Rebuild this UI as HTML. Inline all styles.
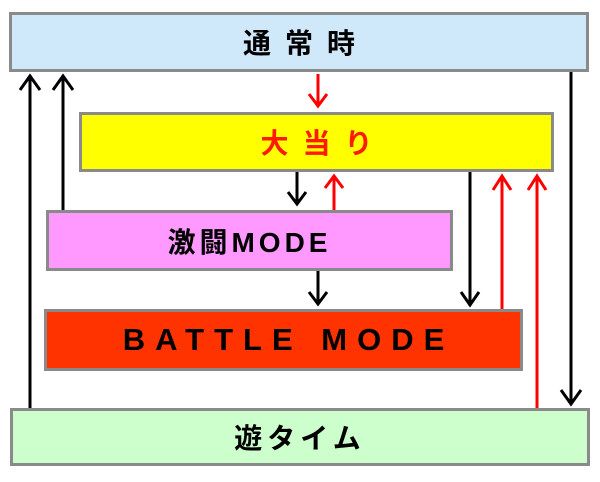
<!DOCTYPE html>
<html><head><meta charset="utf-8"><style>
body{margin:0;background:#fff;width:600px;height:482px;position:relative;overflow:hidden;font-family:"Liberation Sans","Noto Sans CJK JP",sans-serif;font-weight:bold}
.b{position:absolute;box-sizing:border-box;border:3px solid #8a8a8a;display:flex;align-items:center;justify-content:center;font-size:28px;color:#000}
svg{position:absolute;left:0;top:0}
</style></head><body>
<div class="b" style="left:9px;top:12px;width:580px;height:60px;background:#cfe9fb;letter-spacing:14px;padding-left:14px">通常時</div>
<div class="b" style="left:79px;top:112px;width:475px;height:60px;background:#ffff00;color:#ff1a00;letter-spacing:14px;padding-left:14px">大当り</div>
<div class="b" style="left:46px;top:210px;width:407px;height:61px;background:#ff99ff;letter-spacing:4px">激闘MODE</div>
<div class="b" style="left:44px;top:309px;width:479px;height:62px;background:#ff3300;font-size:31px;letter-spacing:10px;padding-left:10px">BATTLE MODE</div>
<div class="b" style="left:10px;top:408px;width:580px;height:58px;background:#ccffcc;letter-spacing:5px">遊タイム</div>
<svg width="600" height="482" fill="none" stroke-width="3">
<g stroke="#000">
<path d="M30 408V76M20 90L30 76L40 90"/>
<path d="M63 210V76M53 90L63 76L73 90"/>
<path d="M297 172V204M288 192L297 204L306 192"/>
<path d="M318 271V304M309 292L318 304L327 292"/>
<path d="M470 172V305M461 292L470 305L479 292"/>
<path d="M571 72V404M561 390L571 404L581 390"/>
</g>
<g stroke="#ff0000">
<path d="M318 74V106M309 94L318 106L327 94"/>
<path d="M334 210V176M325 188L334 176L343 188"/>
<path d="M502 309V176M493 190L502 176L511 190"/>
<path d="M537 408V176M528 190L537 176L546 190"/>
</g>
</svg>
</body></html>
